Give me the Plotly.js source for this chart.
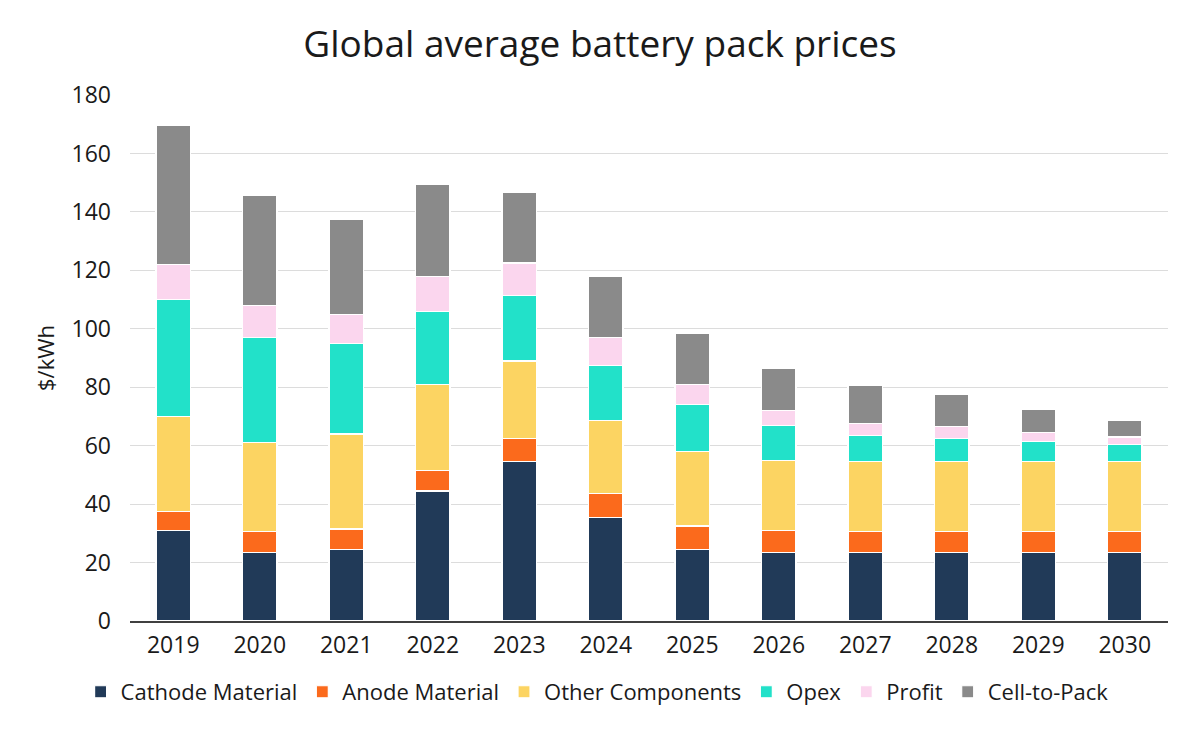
<!DOCTYPE html>
<html>
<head>
<meta charset="utf-8">
<script src="https://cdn.plot.ly/plotly-3.0.1.min.js"></script>
<style>
  html, body { margin: 0; padding: 0; background: #ffffff; }
  #chart { width: 1200px; height: 734px; }
</style>
</head>
<body>
<div id="chart"></div>
<script>
// Battery pack price breakdown, $/kWh, by year
const years = ['2019', '2020', '2021', '2022', '2023', '2024', '2025', '2026', '2027', '2028', '2029', '2030'];

const cathodeMaterial = [31, 23.5, 24.5, 44.5, 54.5, 35.5, 24.5, 23.5, 23.5, 23.5, 23.5, 23.5];
const anodeMaterial   = [6.5, 7, 7, 7, 8, 8, 8, 7.5, 7, 7, 7, 7];
const otherComponents = [32.5, 30.5, 32.5, 29.5, 26.5, 25, 25.5, 24, 24, 24, 24, 24];
const opex            = [40, 36, 31, 25, 22.5, 19, 16, 12, 9, 8, 7, 6];
const profit          = [12, 11, 10, 12, 11, 9.5, 7, 5, 4, 4, 3, 2.5];
const cellToPack      = [47.5, 37.5, 32.5, 31.5, 24, 21, 17.5, 14.5, 13, 11, 8, 5.5];

const seriesNames = ['Cathode Material', 'Anode Material', 'Other Components', 'Opex', 'Profit', 'Cell-to-Pack'];
const seriesValues = [cathodeMaterial, anodeMaterial, otherComponents, opex, profit, cellToPack];
const seriesColors = ['#213a58', '#fb6a1c', '#fcd462', '#22e1c9', '#fbd6ee', '#8a8a8a'];

const FONT = '"Open Sans", "DejaVu Sans", sans-serif';

const traces = seriesNames.map((name, i) => ({
  type: 'bar',
  name: name,
  x: years,
  y: seriesValues[i],
  marker: { color: seriesColors[i], line: { color: '#ffffff', width: 1.2 } },
  hoverinfo: 'x+y+name'
}));

const layout = {
  width: 1200,
  height: 734,
  barmode: 'stack',
  bargap: 0.6,
  paper_bgcolor: '#ffffff',
  plot_bgcolor: '#ffffff',
  margin: { l: 130, r: 32, t: 95, b: 113 },
  font: { family: FONT, color: '#1a1a1a', size: 20 },
  title: {
    text: 'Global average battery pack prices',
    font: { family: FONT, size: 37, color: '#1a1a1a' },
    x: 0.5,
    xanchor: 'center',
    y: 0.94,
    yanchor: 'middle'
  },
  xaxis: {
    type: 'category',
    showgrid: false,
    showline: true,
    linecolor: '#404040',
    linewidth: 1.5,
    ticks: '',
    tickfont: { family: FONT, size: 23, color: '#1a1a1a' },
    ticklabelstandoff: 3
  },
  yaxis: {
    range: [0, 180],
    dtick: 20,
    showgrid: true,
    gridcolor: '#dcdcdc',
    gridwidth: 1.2,
    zeroline: false,
    showline: false,
    ticks: '',
    tickfont: { family: FONT, size: 23, color: '#1a1a1a' },
    ticklabelstandoff: 18,
    title: { text: '$/kWh', font: { family: FONT, size: 22, color: '#1a1a1a' }, standoff: 10 }
  },
  legend: {
    orientation: 'h',
    x: 0.45,
    xanchor: 'center',
    y: -0.095,
    yanchor: 'top',
    font: { family: FONT, size: 22, color: '#1a1a1a' },
    itemwidth: 30,
    traceorder: 'normal',
    tracegroupgap: 0
  },
  showlegend: true
};

Plotly.newPlot('chart', traces, layout, { displayModeBar: false, staticPlot: true });
</script>
</body>
</html>
